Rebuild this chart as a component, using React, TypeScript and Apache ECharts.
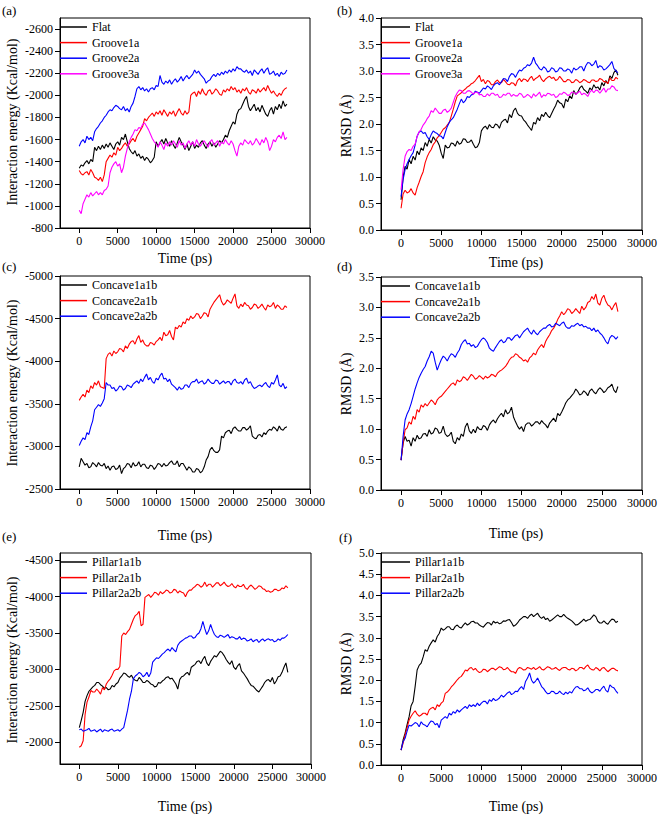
import React, { useEffect, useRef } from "react";
import * as echarts from "echarts";

// sampling times (ps), one point every 250 ps
const TIME = [
  0, 250, 500, 750, 1000, 1250, 1500, 1750, 2000, 2250, 2500, 2750,
  3000, 3250, 3500, 3750, 4000, 4250, 4500, 4750, 5000, 5250, 5500, 5750,
  6000, 6250, 6500, 6750, 7000, 7250, 7500, 7750, 8000, 8250, 8500, 8750,
  9000, 9250, 9500, 9750, 10000, 10250, 10500, 10750, 11000, 11250, 11500, 11750,
  12000, 12250, 12500, 12750, 13000, 13250, 13500, 13750, 14000, 14250, 14500, 14750,
  15000, 15250, 15500, 15750, 16000, 16250, 16500, 16750, 17000, 17250, 17500, 17750,
  18000, 18250, 18500, 18750, 19000, 19250, 19500, 19750, 20000, 20250, 20500, 20750,
  21000, 21250, 21500, 21750, 22000, 22250, 22500, 22750, 23000, 23250, 23500, 23750,
  24000, 24250, 24500, 24750, 25000, 25250, 25500, 25750, 26000, 26250, 26500, 26750,
  27000];

// (a) interaction energy (kcal/mol)
const A_FLAT = [
  -1340, -1370, -1360, -1390, -1410, -1380, -1420, -1400, -1530, -1500, -1540, -1510,
  -1550, -1520, -1560, -1530, -1570, -1540, -1510, -1560, -1580, -1550, -1620, -1600,
  -1650, -1580, -1520, -1490, -1470, -1500, -1450, -1470, -1430, -1450, -1410, -1440,
  -1420, -1390, -1410, -1440, -1580, -1540, -1570, -1600, -1560, -1610, -1570, -1540,
  -1590, -1550, -1520, -1570, -1620, -1580, -1550, -1510, -1560, -1500, -1540, -1580,
  -1520, -1550, -1530, -1570, -1590, -1550, -1520, -1560, -1580, -1540, -1570, -1530,
  -1560, -1590, -1570, -1600, -1640, -1620, -1680, -1720, -1760, -1740, -1830, -1870,
  -1880, -1920, -1960, -1990, -1900, -1860, -1890, -1920, -1860, -1890, -1850, -1910,
  -1870, -1830, -1810, -1860, -1890, -1830, -1900, -1870, -1920, -1880, -1950, -1900,
  -1920];
const A_G1A = [
  -1320, -1290, -1280, -1300, -1310, -1280, -1330, -1300, -1260, -1250, -1230, -1260,
  -1220, -1280, -1400, -1430, -1460, -1440, -1480, -1460, -1530, -1500, -1520, -1550,
  -1570, -1540, -1560, -1590, -1610, -1580, -1630, -1660, -1690, -1720, -1790, -1770,
  -1800, -1820, -1840, -1810, -1850, -1830, -1860, -1820, -1870, -1840, -1810, -1850,
  -1830, -1860, -1810, -1850, -1880, -1840, -1820, -1860, -1830, -1850, -2000, -2020,
  -2030, -1990, -2040, -2010, -2060, -2020, -2000, -2040, -2050, -2010, -2030, -2060,
  -2040, -2010, -2000, -2050, -2030, -2060, -2040, -2080, -2050, -2070, -2030, -2050,
  -2020, -2060, -2040, -2070, -2030, -2010, -2050, -2040, -2020, -2060, -2030, -2050,
  -2070, -2040, -2090, -2050, -2020, -2040, -2010, -1990, -2020, -2000, -2040, -2060,
  -2070];
const A_G2A = [
  -1540, -1580, -1600, -1570, -1630, -1600, -1620, -1590, -1670, -1700, -1720, -1750,
  -1770, -1800, -1820, -1850, -1870, -1860, -1890, -1910, -1900, -1880, -1870, -1900,
  -1860, -1880, -1850, -1900, -1930, -1990, -2060, -2080, -2050, -2070, -2040, -2060,
  -2030, -2060, -2070, -2050, -2090, -2080, -2180, -2120, -2100, -2130, -2110, -2140,
  -2100, -2130, -2150, -2120, -2140, -2170, -2130, -2160, -2180, -2150, -2170, -2190,
  -2230, -2200, -2220, -2190, -2170, -2150, -2110, -2130, -2140, -2170, -2190, -2170,
  -2200, -2180, -2210, -2190, -2220, -2200, -2230, -2210, -2240, -2220, -2260, -2240,
  -2240, -2220, -2210, -2230, -2200, -2220, -2180, -2230, -2210, -2190, -2220, -2240,
  -2200, -2230, -2250, -2190, -2200, -2220, -2180, -2200, -2170, -2210, -2190, -2200,
  -2230];
const A_G3A = [
  -960, -930, -1020, -1060, -1100, -1080, -1120, -1090, -1110, -1130, -1100, -1120,
  -1100, -1140, -1150, -1180, -1300, -1350, -1380, -1400, -1360, -1380, -1300, -1350,
  -1450, -1520, -1580, -1620, -1650, -1690, -1680, -1710, -1700, -1740, -1750, -1720,
  -1690, -1650, -1610, -1580, -1560, -1530, -1580, -1550, -1510, -1570, -1540, -1580,
  -1550, -1590, -1560, -1530, -1590, -1550, -1570, -1520, -1560, -1590, -1550, -1580,
  -1540, -1600, -1560, -1540, -1570, -1590, -1560, -1530, -1580, -1600, -1550, -1570,
  -1590, -1540, -1580, -1560, -1600, -1570, -1550, -1590, -1560, -1500, -1450, -1540,
  -1570, -1550, -1600, -1580, -1560, -1590, -1550, -1570, -1610, -1580, -1550, -1600,
  -1570, -1620, -1580, -1500, -1540, -1600, -1580, -1620, -1640, -1610, -1670, -1600,
  -1620];

// (b) RMSD (Å)
const B_FLAT = [
  0.57, 1.0, 1.2, 1.15, 1.33, 1.25, 1.39, 1.32, 1.49, 1.42, 1.55, 1.5,
  1.65, 1.58, 1.71, 1.64, 1.76, 1.7, 1.68, 1.6, 1.45, 1.35, 1.6, 1.55,
  1.56, 1.64, 1.63, 1.58, 1.68, 1.62, 1.64, 1.72, 1.71, 1.65, 1.66, 1.7,
  1.62, 1.55, 1.57, 1.65, 1.87, 1.93, 1.96, 1.9, 1.99, 1.94, 1.93, 2.0,
  1.98, 1.92, 2.03, 2.07, 2.09, 2.02, 2.18, 2.12, 2.25, 2.3, 2.2, 2.16,
  2.15, 2.08, 2.04, 1.98, 1.93, 1.88, 2.03, 2.0, 2.12, 2.06, 2.18, 2.14,
  2.22, 2.16, 2.12, 2.2, 2.28, 2.35, 2.45, 2.4, 2.38, 2.3, 2.47, 2.42,
  2.53, 2.48, 2.63, 2.56, 2.6, 2.68, 2.72, 2.65, 2.62, 2.58, 2.68, 2.64,
  2.74, 2.68, 2.7, 2.64, 2.78, 2.72, 2.82, 2.76, 2.91, 2.86, 2.97, 3.02,
  2.92];
const B_G1A = [
  0.41, 0.68, 0.75, 0.7, 0.72, 0.78, 0.7, 0.66, 0.8, 0.9, 1.01, 1.1,
  1.27, 1.38, 1.46, 1.52, 1.61, 1.66, 1.74, 1.78, 1.84, 1.9, 1.93, 1.98,
  2.03, 2.15, 2.28, 2.42, 2.53, 2.56, 2.59, 2.63, 2.66, 2.7, 2.72, 2.76,
  2.78, 2.82, 2.87, 2.92, 2.8, 2.84, 2.76, 2.82, 2.8, 2.74, 2.74, 2.8,
  2.83, 2.78, 2.78, 2.84, 2.8, 2.75, 2.74, 2.78, 2.77, 2.72, 2.82, 2.86,
  2.8, 2.85, 2.84, 2.8, 2.86, 2.9, 2.82, 2.86, 2.88, 2.92, 2.84, 2.8,
  2.85, 2.88, 2.9, 2.86, 2.88, 2.82, 2.84, 2.9, 2.85, 2.8, 2.8, 2.84,
  2.83, 2.78, 2.79, 2.84, 2.82, 2.78, 2.8, 2.84, 2.82, 2.79, 2.78, 2.83,
  2.83, 2.8, 2.81, 2.86, 2.84, 2.8, 2.8, 2.76, 2.87, 2.82, 2.82, 2.88,
  2.85];
const B_G2A = [
  0.63, 0.95, 1.14, 1.25, 1.33, 1.4, 1.46, 1.6, 1.77, 1.85, 1.87, 1.82,
  1.84, 1.76, 1.71, 1.8, 1.87, 1.84, 1.82, 1.78, 1.77, 1.72, 1.84, 1.95,
  2.03, 2.08, 2.12, 2.2, 2.28, 2.38, 2.47, 2.4, 2.44, 2.52, 2.5, 2.55,
  2.56, 2.62, 2.6, 2.58, 2.63, 2.68, 2.66, 2.72, 2.69, 2.65, 2.72, 2.76,
  2.78, 2.74, 2.8, 2.86, 2.85, 2.8, 2.9, 2.95, 2.94, 2.88, 2.96, 3.02,
  3.0, 3.05, 3.07, 3.12, 3.1, 3.15, 3.26, 3.15, 3.1, 3.04, 3.02, 3.08,
  3.05, 2.98, 3.0, 3.06, 3.04, 2.98, 3.0, 3.06, 3.05, 3.0, 3.0, 3.04,
  3.02, 2.96, 3.06, 3.02, 3.04, 3.08, 3.08, 3.0, 3.1, 3.16, 3.15, 3.1,
  3.13, 3.2, 3.06, 3.1, 3.08, 3.02, 3.04, 3.08, 3.12, 3.18, 3.05, 3.0,
  2.97];
const B_G3A = [
  0.76, 1.14, 1.39, 1.48, 1.52, 1.5, 1.58, 1.62, 1.77, 1.85, 1.9, 1.98,
  2.03, 2.1, 2.15, 2.25, 2.22, 2.3, 2.25, 2.2, 2.2, 2.26, 2.28, 2.22,
  2.25, 2.3, 2.41, 2.52, 2.59, 2.64, 2.63, 2.58, 2.58, 2.62, 2.63, 2.6,
  2.56, 2.6, 2.6, 2.55, 2.56, 2.52, 2.52, 2.57, 2.53, 2.58, 2.58, 2.54,
  2.56, 2.5, 2.51, 2.56, 2.54, 2.58, 2.58, 2.52, 2.56, 2.53, 2.53, 2.58,
  2.56, 2.5, 2.52, 2.56, 2.53, 2.49, 2.57, 2.52, 2.56, 2.6, 2.5, 2.55,
  2.53, 2.58, 2.57, 2.54, 2.56, 2.5, 2.52, 2.57, 2.56, 2.6, 2.58, 2.54,
  2.55, 2.6, 2.6, 2.56, 2.59, 2.62, 2.55, 2.58, 2.56, 2.52, 2.6, 2.64,
  2.59, 2.64, 2.63, 2.58, 2.63, 2.68, 2.6, 2.66, 2.66, 2.72, 2.7, 2.64,
  2.63];

// (c) interaction energy (kcal/mol)
const C_C1 = [
  -2760, -2860, -2820, -2780, -2800, -2750, -2760, -2810, -2790, -2760, -2810, -2780,
  -2770, -2800, -2740, -2770, -2720, -2760, -2770, -2730, -2740, -2780, -2680, -2740,
  -2760, -2800, -2790, -2750, -2810, -2770, -2780, -2820, -2760, -2790, -2790, -2750,
  -2740, -2780, -2770, -2730, -2760, -2800, -2790, -2760, -2800, -2770, -2780, -2810,
  -2830, -2790, -2790, -2830, -2760, -2800, -2800, -2760, -2720, -2760, -2740, -2700,
  -2700, -2740, -2730, -2690, -2710, -2760, -2840, -2880, -2960, -2990, -2950, -2930,
  -2930, -2960, -3120, -3100, -3160, -3180, -3190, -3150, -3210, -3230, -3200, -3180,
  -3180, -3220, -3220, -3190, -3210, -3240, -3120, -3100, -3090, -3130, -3140, -3110,
  -3160, -3140, -3180, -3200, -3190, -3230, -3210, -3180, -3240, -3200, -3190, -3220,
  -3230];
const C_C2 = [
  -3540, -3580, -3610, -3580, -3660, -3630, -3710, -3680, -3750, -3720, -3770, -3700,
  -3690, -3680, -4030, -4080, -4100, -4060, -4120, -4090, -4110, -4150, -4140, -4110,
  -4180, -4150, -4200, -4230, -4240, -4200, -4260, -4300, -4220, -4250, -4200, -4180,
  -4180, -4220, -4210, -4190, -4230, -4250, -4280, -4240, -4340, -4300, -4310, -4360,
  -4290, -4250, -4400, -4380, -4420, -4400, -4460, -4440, -4500, -4480, -4530, -4500,
  -4520, -4560, -4550, -4500, -4530, -4570, -4560, -4520, -4610, -4650, -4690, -4720,
  -4750, -4780, -4700, -4660, -4680, -4720, -4700, -4680, -4740, -4790, -4650, -4620,
  -4670, -4640, -4690, -4660, -4650, -4610, -4630, -4670, -4660, -4620, -4640, -4670,
  -4630, -4600, -4660, -4640, -4650, -4690, -4620, -4660, -4640, -4610, -4610, -4650,
  -4630];
const C_C3 = [
  -3010, -3060, -3100, -3080, -3160, -3140, -3230, -3300, -3430, -3460, -3490, -3470,
  -3510, -3560, -3750, -3720, -3720, -3680, -3690, -3650, -3670, -3710, -3700, -3660,
  -3680, -3720, -3710, -3690, -3730, -3750, -3770, -3740, -3790, -3760, -3810, -3850,
  -3780, -3810, -3760, -3740, -3800, -3780, -3830, -3860, -3790, -3800, -3760, -3790,
  -3730, -3710, -3690, -3660, -3700, -3670, -3680, -3720, -3720, -3690, -3740, -3760,
  -3760, -3790, -3740, -3760, -3770, -3730, -3750, -3790, -3760, -3740, -3740, -3780,
  -3770, -3730, -3750, -3770, -3740, -3760, -3760, -3720, -3770, -3790, -3750, -3740,
  -3760, -3730, -3780, -3800, -3740, -3760, -3710, -3680, -3690, -3710, -3720, -3700,
  -3730, -3750, -3710, -3690, -3750, -3730, -3780, -3840, -3720, -3700, -3740, -3680,
  -3700];

// (d) RMSD (Å)
const D_C1 = [
  0.49, 0.77, 0.88, 0.8, 0.82, 0.72, 0.86, 0.8, 0.9, 0.84, 0.86, 0.92,
  0.93, 0.88, 0.99, 0.92, 0.94, 1.02, 1.0, 0.93, 0.95, 1.05, 0.92, 0.88,
  0.9, 0.95, 0.8, 0.76, 0.86, 0.82, 0.92, 0.88, 1.04, 1.1, 0.97, 0.93,
  1.0, 0.94, 1.04, 1.0, 0.99, 1.06, 1.04, 0.98, 1.07, 1.12, 1.15, 1.1,
  1.17, 1.22, 1.26, 1.2, 1.32, 1.25, 1.28, 1.36, 1.2, 1.12, 1.05, 1.0,
  1.04, 0.96, 1.07, 1.1, 1.1, 1.05, 1.08, 1.12, 1.12, 1.08, 1.14, 1.1,
  1.07, 1.02, 1.1, 1.14, 1.18, 1.12, 1.26, 1.22, 1.28, 1.35, 1.43, 1.48,
  1.51, 1.55, 1.59, 1.66, 1.62, 1.56, 1.58, 1.63, 1.6, 1.55, 1.63, 1.66,
  1.61, 1.58, 1.64, 1.68, 1.65, 1.6, 1.63, 1.68, 1.7, 1.74, 1.64, 1.6,
  1.7];
const D_C2 = [
  0.49, 0.77, 0.99, 1.02, 1.12, 1.08, 1.21, 1.16, 1.32, 1.28, 1.4, 1.36,
  1.42, 1.38, 1.43, 1.48, 1.45, 1.4, 1.48, 1.52, 1.54, 1.58, 1.62, 1.66,
  1.7, 1.74, 1.76, 1.72, 1.81, 1.78, 1.8, 1.86, 1.84, 1.8, 1.85, 1.9,
  1.87, 1.82, 1.84, 1.88, 1.85, 1.82, 1.87, 1.84, 1.86, 1.9, 1.89, 1.86,
  1.92, 1.95, 1.97, 2.0, 2.03, 2.08, 2.14, 2.18, 2.19, 2.24, 2.22, 2.18,
  2.16, 2.12, 2.14, 2.1, 2.17, 2.2, 2.25, 2.22, 2.3, 2.35, 2.39, 2.34,
  2.44, 2.5, 2.55, 2.62, 2.66, 2.72, 2.8, 2.86, 2.93, 2.88, 2.92, 2.98,
  2.96, 2.9, 2.93, 2.98, 2.94, 2.9, 3.02, 2.96, 3.0, 3.08, 3.1, 3.18,
  3.13, 3.22, 3.07, 3.04, 3.15, 3.2, 3.1, 3.04, 3.02, 2.96, 3.03, 3.08,
  2.93];
const D_C3 = [
  0.49, 0.88, 1.15, 1.25, 1.32, 1.42, 1.54, 1.66, 1.76, 1.85, 1.92, 1.98,
  2.03, 2.12, 2.19, 2.28, 2.25, 2.1, 1.97, 2.06, 2.14, 2.2, 2.17, 2.12,
  2.19, 2.24, 2.22, 2.18, 2.25, 2.3, 2.39, 2.44, 2.47, 2.4, 2.41, 2.36,
  2.39, 2.34, 2.36, 2.42, 2.47, 2.5, 2.47, 2.42, 2.33, 2.3, 2.28, 2.34,
  2.39, 2.44, 2.47, 2.42, 2.44, 2.5, 2.5, 2.46, 2.5, 2.54, 2.55, 2.5,
  2.55, 2.6, 2.63, 2.66, 2.6, 2.56, 2.63, 2.58, 2.55, 2.6, 2.63, 2.66,
  2.66, 2.7, 2.72, 2.68, 2.69, 2.74, 2.72, 2.7, 2.74, 2.76, 2.69, 2.66,
  2.66, 2.7, 2.69, 2.72, 2.74, 2.7, 2.72, 2.68, 2.69, 2.66, 2.66, 2.62,
  2.66, 2.6, 2.63, 2.58, 2.55, 2.5, 2.44, 2.4, 2.5, 2.54, 2.52, 2.48,
  2.52];

// (e) interaction energy (kcal/mol)
const E_P1 = [
  -2200, -2300, -2410, -2560, -2640, -2700, -2730, -2760, -2780, -2820, -2820, -2790,
  -2770, -2740, -2750, -2720, -2730, -2780, -2760, -2800, -2820, -2880, -2910, -2950,
  -2940, -2910, -2890, -2920, -2870, -2850, -2840, -2890, -2860, -2820, -2820, -2850,
  -2830, -2800, -2790, -2760, -2770, -2820, -2810, -2840, -2860, -2890, -2900, -2870,
  -2880, -2840, -2800, -2730, -2860, -2900, -2910, -2940, -2960, -2920, -3030, -3050,
  -3070, -3110, -3120, -3080, -3140, -3180, -3090, -3050, -3110, -3150, -3190, -3170,
  -3210, -3250, -3230, -3190, -3140, -3100, -3070, -3120, -3030, -3000, -3050, -3080,
  -2980, -2950, -2910, -2870, -2820, -2780, -2770, -2740, -2710, -2690, -2730, -2770,
  -2820, -2850, -2860, -2830, -2890, -2800, -2840, -2900, -2910, -2960, -3030, -3090,
  -2960];
const E_P2 = [
  -1930, -1950, -2020, -2380, -2550, -2620, -2710, -2690, -2690, -2730, -2700, -2660,
  -2750, -2720, -2800, -2840, -2870, -2920, -2980, -3000, -3000, -3040, -3460, -3500,
  -3480, -3520, -3550, -3620, -3690, -3740, -3760, -3800, -3600, -3620, -3990, -4010,
  -4030, -3990, -4020, -4060, -4050, -4020, -4070, -4040, -4060, -4090, -4080, -4050,
  -4060, -4100, -4090, -4050, -4080, -4060, -4050, -4000, -4060, -4090, -4090, -4120,
  -4140, -4170, -4160, -4130, -4150, -4200, -4140, -4170, -4170, -4130, -4160, -4190,
  -4190, -4150, -4170, -4200, -4160, -4140, -4150, -4180, -4140, -4120, -4160, -4140,
  -4140, -4170, -4120, -4100, -4140, -4160, -4130, -4100, -4120, -4150, -4140, -4110,
  -4100, -4070, -4080, -4060, -4070, -4100, -4100, -4080, -4090, -4120, -4110, -4150,
  -4120];
const E_P3 = [
  -2170, -2180, -2150, -2160, -2170, -2190, -2150, -2160, -2170, -2140, -2160, -2180,
  -2140, -2170, -2160, -2150, -2170, -2180, -2150, -2160, -2170, -2150, -2180, -2200,
  -2320, -2440, -2590, -2700, -2870, -2910, -2930, -2960, -2940, -2900, -2920, -2960,
  -2900, -2950, -3100, -3130, -3160, -3150, -3180, -3210, -3230, -3260, -3280, -3250,
  -3300, -3270, -3240, -3330, -3370, -3390, -3410, -3430, -3440, -3460, -3460, -3430,
  -3440, -3480, -3500, -3560, -3660, -3560, -3480, -3530, -3620, -3540, -3480, -3450,
  -3440, -3470, -3460, -3440, -3460, -3480, -3430, -3450, -3440, -3420, -3420, -3450,
  -3410, -3430, -3420, -3390, -3400, -3420, -3380, -3400, -3410, -3370, -3400, -3420,
  -3390, -3410, -3420, -3400, -3410, -3380, -3390, -3420, -3400, -3430, -3430, -3450,
  -3480];

// (f) RMSD (Å)
const F_P1 = [
  0.35, 0.59, 0.75, 0.95, 1.14, 1.4, 1.5, 1.85, 2.24, 2.35, 2.4, 2.55,
  2.72, 2.68, 2.8, 2.88, 2.95, 2.9, 3.03, 3.1, 3.23, 3.18, 3.21, 3.26,
  3.26, 3.2, 3.19, 3.27, 3.3, 3.25, 3.23, 3.3, 3.35, 3.3, 3.33, 3.38,
  3.39, 3.35, 3.35, 3.3, 3.27, 3.25, 3.31, 3.36, 3.35, 3.3, 3.39, 3.35,
  3.37, 3.33, 3.35, 3.4, 3.39, 3.42, 3.43, 3.36, 3.27, 3.3, 3.35, 3.42,
  3.46, 3.5, 3.5, 3.46, 3.52, 3.56, 3.5, 3.54, 3.58, 3.5, 3.46, 3.5,
  3.43, 3.46, 3.39, 3.42, 3.46, 3.5, 3.54, 3.5, 3.5, 3.55, 3.5, 3.46,
  3.43, 3.4, 3.35, 3.3, 3.31, 3.35, 3.39, 3.44, 3.39, 3.42, 3.43, 3.48,
  3.54, 3.5, 3.39, 3.35, 3.35, 3.4, 3.35, 3.32, 3.39, 3.44, 3.43, 3.36,
  3.39];
const F_P2 = [
  0.35, 0.51, 0.71, 0.88, 1.06, 1.15, 1.22, 1.28, 1.2, 1.15, 1.18, 1.22,
  1.22, 1.18, 1.3, 1.34, 1.36, 1.3, 1.42, 1.38, 1.46, 1.5, 1.69, 1.72,
  1.77, 1.84, 1.89, 1.95, 2.01, 2.06, 2.09, 2.16, 2.24, 2.22, 2.28, 2.3,
  2.24, 2.28, 2.22, 2.18, 2.2, 2.26, 2.25, 2.2, 2.24, 2.28, 2.28, 2.24,
  2.28, 2.32, 2.3, 2.25, 2.26, 2.3, 2.24, 2.2, 2.2, 2.16, 2.26, 2.3,
  2.28, 2.24, 2.25, 2.3, 2.28, 2.26, 2.3, 2.25, 2.28, 2.32, 2.26, 2.24,
  2.28, 2.32, 2.3, 2.26, 2.27, 2.3, 2.26, 2.23, 2.28, 2.3, 2.3, 2.26,
  2.24, 2.28, 2.27, 2.22, 2.25, 2.3, 2.3, 2.26, 2.32, 2.36, 2.28, 2.25,
  2.24, 2.3, 2.27, 2.22, 2.28, 2.3, 2.25, 2.2, 2.24, 2.28, 2.28, 2.24,
  2.22];
const F_P3 = [
  0.35, 0.55, 0.63, 0.8, 0.94, 0.92, 0.96, 1.0, 0.98, 0.9, 1.02, 0.96,
  0.94, 0.9, 0.98, 1.04, 1.02, 0.95, 0.98, 0.88, 1.06, 1.1, 1.14, 1.1,
  1.22, 1.18, 1.26, 1.22, 1.3, 1.25, 1.3, 1.34, 1.38, 1.33, 1.42, 1.38,
  1.42, 1.38, 1.46, 1.4, 1.46, 1.5, 1.5, 1.44, 1.54, 1.5, 1.57, 1.52,
  1.54, 1.58, 1.65, 1.6, 1.65, 1.7, 1.73, 1.66, 1.69, 1.74, 1.73, 1.8,
  1.85, 1.78, 1.97, 2.05, 2.17, 2.0, 1.93, 1.98, 2.05, 1.95, 1.85, 1.8,
  1.73, 1.68, 1.69, 1.74, 1.73, 1.68, 1.69, 1.74, 1.69, 1.66, 1.72, 1.68,
  1.73, 1.7, 1.78, 1.84, 1.85, 1.8, 1.8, 1.75, 1.77, 1.82, 1.74, 1.7,
  1.73, 1.78, 1.78, 1.74, 1.81, 1.86, 1.76, 1.72, 1.89, 1.84, 1.82, 1.75,
  1.69];

const X_TICKS = [0, 5000, 10000, 15000, 20000, 25000, 30000];
const A_YTICKS = [-2600, -2400, -2200, -2000, -1800, -1600, -1400, -1200, -1000, -800];
const E_YTICKS = [-4500, -4000, -3500, -3000, -2500, -2000];

const NAMES_AB = ["Flat", "Groove1a", "Groove2a", "Groove3a"];
const NAMES_CD = ["Concave1a1b", "Concave2a1b", "Concave2a2b"];
const NAMES_EF = ["Pillar1a1b", "Pillar2a1b", "Pillar2a2b"];
const COLORS = ["#000000", "#ff0000", "#0000ff", "#ff00ff"];

const FONT = "Liberation Serif";

export default function App() {
  const ref = useRef<HTMLDivElement>(null);
  useEffect(() => {
    if (!ref.current) return;
    const chart = echarts.init(ref.current, undefined, { renderer: "svg" });

    const grids = [
      { left: 60, top: 18, width: 250, height: 210 },
      { left: 381, top: 18, width: 261, height: 212 },
      { left: 60, top: 276, width: 250, height: 213 },
      { left: 381, top: 277, width: 261, height: 213 },
      { left: 60, top: 553, width: 251, height: 211 },
      { left: 381, top: 553, width: 261, height: 212 },
    ];

    const axisCommon = {
      axisLine: { show: true, onZero: false, lineStyle: { color: "#000", width: 1 } },
      axisTick: { show: true, inside: false, length: 5, lineStyle: { color: "#000", width: 1 } },
      splitLine: { show: false },
      axisLabel: { color: "#000", fontSize: 12, fontFamily: FONT, margin: 7 },
    };

    const xAxes = grids.map((_, i) => ({
      type: "value",
      gridIndex: i,
      min: -2500,
      max: 30000,
      ...axisCommon,
      axisLabel: { ...axisCommon.axisLabel, customValues: X_TICKS, formatter: (v: number) => String(v) },
      axisTick: { ...axisCommon.axisTick, customValues: X_TICKS },
    }));

    const numFmt = (v: number) => String(v);
    const decFmt = (v: number) => v.toFixed(1);

    const yAxes = [
      {
        type: "value", gridIndex: 0, inverse: true, min: -2700, max: -800, ...axisCommon,
        axisLabel: { ...axisCommon.axisLabel, customValues: A_YTICKS, formatter: numFmt },
        axisTick: { ...axisCommon.axisTick, customValues: A_YTICKS },
      },
      {
        type: "value", gridIndex: 1, min: 0, max: 4, interval: 0.5, ...axisCommon,
        axisLabel: { ...axisCommon.axisLabel, formatter: decFmt },
      },
      {
        type: "value", gridIndex: 2, inverse: true, min: -5000, max: -2500, interval: 500, ...axisCommon,
        axisLabel: { ...axisCommon.axisLabel, formatter: numFmt },
      },
      {
        type: "value", gridIndex: 3, min: 0, max: 3.5, interval: 0.5, ...axisCommon,
        axisLabel: { ...axisCommon.axisLabel, formatter: decFmt },
      },
      {
        type: "value", gridIndex: 4, inverse: true, min: -4600, max: -1700, ...axisCommon,
        axisLabel: { ...axisCommon.axisLabel, customValues: E_YTICKS, formatter: numFmt },
        axisTick: { ...axisCommon.axisTick, customValues: E_YTICKS },
      },
      {
        type: "value", gridIndex: 5, min: 0, max: 5, interval: 0.5, ...axisCommon,
        axisLabel: { ...axisCommon.axisLabel, formatter: decFmt },
      },
    ];

    const panels: { names: string[]; data: number[][] }[] = [
      { names: NAMES_AB, data: [A_FLAT, A_G1A, A_G2A, A_G3A] },
      { names: NAMES_AB, data: [B_FLAT, B_G1A, B_G2A, B_G3A] },
      { names: NAMES_CD, data: [C_C1, C_C2, C_C3] },
      { names: NAMES_CD, data: [D_C1, D_C2, D_C3] },
      { names: NAMES_EF, data: [E_P1, E_P2, E_P3] },
      { names: NAMES_EF, data: [F_P1, F_P2, F_P3] },
    ];

    const series: any[] = [];
    panels.forEach((p, gi) => {
      p.data.forEach((vals, si) => {
        series.push({
          type: "line",
          name: p.names[si],
          xAxisIndex: gi,
          yAxisIndex: gi,
          data: TIME.map((t, k) => [t, vals[k]]),
          symbol: "none",
          showSymbol: false,
          silent: true,
          lineStyle: { color: COLORS[si], width: 1.1 },
          itemStyle: { color: COLORS[si] },
        });
      });
    });

    const legends = panels.map((p, gi) => ({
      orient: "vertical",
      left: grids[gi].left,
      top: grids[gi].top + 2,
      padding: 0,
      itemGap: 1.6,
      itemWidth: gi % 2 === 0 ? 27 : 29,
      itemHeight: 1.5,
      icon: "rect",
      data: p.names,
      selectedMode: false,
      textStyle: { color: "#000", fontSize: 12, fontFamily: FONT, lineHeight: 14 },
    }));

    const yTitle = (x: number, y: number, text: string) => ({
      type: "text",
      x,
      y,
      rotation: Math.PI / 2,
      style: { text, fontSize: 14, fontFamily: FONT, fontWeight: "normal", fill: "#000", align: "center", verticalAlign: "middle" },
    });
    const xTitle = (x: number, y: number) => ({
      type: "text",
      x,
      y,
      style: { text: "Time (ps)", fontSize: 14, fontFamily: FONT, fontWeight: "normal", fill: "#000", align: "center", verticalAlign: "middle" },
    });
    const tag = (x: number, y: number, text: string) => ({
      type: "text",
      x,
      y,
      style: { text, fontSize: 13, fontFamily: FONT, fontWeight: "normal", fill: "#000", align: "left", verticalAlign: "middle" },
    });

    chart.setOption({
      animation: false,
      backgroundColor: "#ffffff",
      textStyle: { fontFamily: FONT },
      grid: grids.map((g) => ({
        ...g,
        show: true,
        borderColor: "#000",
        borderWidth: 1,
        backgroundColor: "transparent",
        containLabel: false,
        outerBoundsMode: "none",
      })),
      xAxis: xAxes,
      yAxis: yAxes,
      legend: legends,
      series,
      graphic: [
        yTitle(12, 122, "Interaction energy (Kcal/mol)"),
        yTitle(346, 126, "RMSD (Å)"),
        yTitle(12, 383, "Interaction energy (Kcal/mol)"),
        yTitle(346, 384, "RMSD (Å)"),
        yTitle(12, 660, "Interaction energy (Kcal/mol)"),
        yTitle(346, 664, "RMSD (Å)"),
        xTitle(185, 258),
        xTitle(516, 262),
        xTitle(185, 535),
        xTitle(516, 533),
        xTitle(185, 806),
        xTitle(516, 806),
        tag(2, 10, "(a)"),
        tag(337, 10, "(b)"),
        tag(2, 266, "(c)"),
        tag(337, 266, "(d)"),
        tag(2, 536, "(e)"),
        tag(339, 537, "(f)"),
      ],
    });
    return () => chart.dispose();
  }, []);

  return (
    <div
      ref={ref}
      style={{ position: "absolute", left: 0, top: 0, width: 660, height: 816, background: "#fff" }}
    />
  );
}
